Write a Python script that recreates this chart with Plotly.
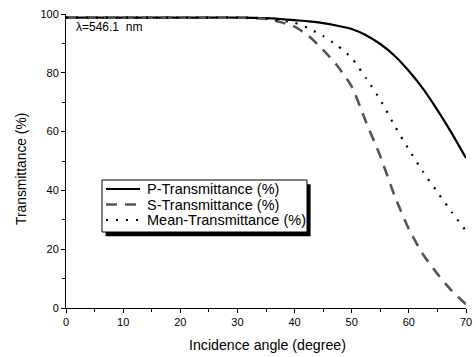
import plotly.graph_objects as go

# Incidence angle (degree)
angle = [0, 5, 10, 15, 20, 25, 30, 35, 37.5, 40, 42.5, 45, 47.5, 50, 52.5, 55,
         57.5, 60, 62.5, 65, 67.5, 70]

# Transmittance (%) at 546.1 nm
p_trans = [98.8, 98.8, 98.8, 98.8, 98.8, 98.8, 98.8, 98.6, 98.3, 97.9, 97.5, 96.9,
           96.0, 94.9, 92.8, 89.8, 85.8, 80.6, 74.5, 67.3, 59.5, 51.0]
s_trans = [98.8, 98.8, 98.8, 98.8, 98.8, 98.8, 98.8, 98.3, 97.3, 95.7, 92.5, 87.8,
           82.3, 75.3, 63.3, 51.6, 38.2, 26.8, 18.2, 11.6, 5.9, 1.3]
mean_trans = [98.8, 98.8, 98.8, 98.8, 98.8, 98.8, 98.8, 98.5, 97.8, 97.0, 95.1, 92.5,
              89.2, 85.0, 78.2, 70.8, 62.0, 53.9, 46.3, 39.4, 32.6, 26.2]

series_names = ["P-Transmittance (%)", "S-Transmittance (%)", "Mean-Transmittance (%)"]

x_ticks = [0, 10, 20, 30, 40, 50, 60, 70]
y_ticks = [0, 20, 40, 60, 80, 100]

FONT = "Liberation Sans, Arial, sans-serif"

line_styles = [
    dict(color="black", width=2.2),
    dict(color="#555555", width=2.6, dash="11px,8px"),
    dict(color="black", width=2.2, dash="2px,8px"),
]

fig = go.Figure()
for name, values, style in zip(series_names, [p_trans, s_trans, mean_trans], line_styles):
    fig.add_trace(go.Scatter(
        x=angle, y=values, mode="lines", name=name, showlegend=False,
        line=dict(style, shape="spline", smoothing=0.6)))

# Boxed legend with a drop shadow (paper coordinates)
box_x0, box_x1, box_y0, box_y1 = 0.09, 0.6025, 0.2585, 0.4354
shadow_dx, shadow_dy = 0.009, 0.0145
fig.add_shape(type="rect", xref="paper", yref="paper",
              x0=box_x0 + shadow_dx, x1=box_x1 + shadow_dx,
              y0=box_y0 - shadow_dy, y1=box_y1 - shadow_dy,
              fillcolor="black", line=dict(width=0), layer="above")
fig.add_shape(type="rect", xref="paper", yref="paper",
              x0=box_x0, x1=box_x1, y0=box_y0, y1=box_y1,
              fillcolor="white", line=dict(color="black", width=1), layer="above")
row_y = [0.4048, 0.352, 0.2993]
for name, style, yy in zip(series_names, line_styles, row_y):
    fig.add_shape(type="line", xref="paper", yref="paper",
                  x0=0.1, x1=0.185, y0=yy, y1=yy, line=style, layer="above")
    fig.add_annotation(x=0.197, y=yy, xref="paper", yref="paper", text=name,
                       showarrow=False, xanchor="left", yanchor="middle",
                       font=dict(family=FONT, size=14.5, color="black"))

fig.add_annotation(x=0.02, y=0.985, xref="paper", yref="paper",
                   text="λ=546.1  nm", showarrow=False, xanchor="left", yanchor="top",
                   font=dict(family=FONT, size=12, color="black"))

# Axis titles
fig.add_annotation(x=0.5025, y=-0.126, xref="paper", yref="paper",
                   text="Incidence angle (degree)", showarrow=False,
                   xanchor="center", yanchor="middle",
                   font=dict(family=FONT, size=14.2, color="black"))
fig.add_annotation(x=-0.11, y=0.473, xref="paper", yref="paper",
                   text="Transmittance (%)", showarrow=False, textangle=-90,
                   xanchor="center", yanchor="middle",
                   font=dict(family=FONT, size=13.8, color="black"))

axis_common = dict(
    showgrid=False, zeroline=False, showline=True, linecolor="black", linewidth=1,
    ticks="outside", ticklen=4, tickcolor="black", tickwidth=1, automargin=False,
    tickfont=dict(family=FONT, size=11, color="black"),
)

fig.update_layout(
    width=476, height=357,
    margin=dict(l=66, r=10, t=14, b=49),
    paper_bgcolor="white", plot_bgcolor="white",
    showlegend=False,
    xaxis=dict(axis_common, range=[0, 70], tickvals=x_ticks,
               minor=dict(ticks="outside", ticklen=3, tickcolor="black", dtick=5, tick0=0)),
    yaxis=dict(axis_common, range=[0, 100], tickvals=y_ticks,
               minor=dict(ticks="outside", ticklen=3, tickcolor="black", dtick=10, tick0=0)),
)

fig.write_html("out.html")
